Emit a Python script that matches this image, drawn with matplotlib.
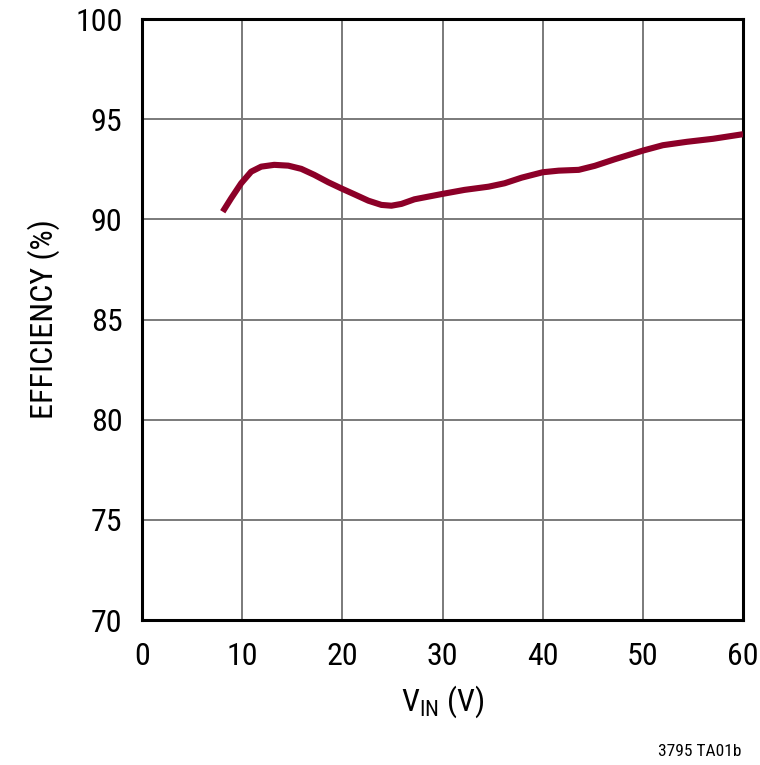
import matplotlib
matplotlib.use("Agg")
import matplotlib.pyplot as plt
from matplotlib import font_manager

vin = [8.06, 8.9, 9.9, 10.9, 11.9, 13.2, 14.6, 15.9, 17.2, 18.6, 20.0, 21.2, 22.6,
       23.9, 24.9, 25.9, 27.2, 30.0, 32.2, 34.6, 36.2, 37.9, 40.0, 41.6, 43.6,
       45.2, 47.2, 50.0, 52.0, 54.4, 57.0, 60.0]
eff = [90.38, 91.05, 91.80, 92.38, 92.63, 92.72, 92.68, 92.52, 92.22, 91.85, 91.52, 91.25, 90.93,
       90.72, 90.68, 90.77, 91.00, 91.27, 91.47, 91.63, 91.80, 92.08, 92.35, 92.43, 92.47,
       92.67, 93.00, 93.43, 93.70, 93.87, 94.02, 94.25]

xticks = [0, 10, 20, 30, 40, 50, 60]
yticks = [70, 75, 80, 85, 90, 95, 100]

names = {f.name for f in font_manager.fontManager.ttflist}
cands = ["Nimbus Sans Narrow", "Liberation Sans Narrow", "Arial Narrow", "Roboto Condensed",
         "Archivo Narrow", "PT Sans Narrow", "Liberation Sans"]
fam = next(c for c in cands if c in names)
plt.rcParams["font.family"] = [fam, "DejaVu Sans"]
plt.rcParams["mathtext.fontset"] = "custom"
plt.rcParams["mathtext.rm"] = fam
plt.rcParams["mathtext.it"] = fam

fig = plt.figure(figsize=(7.6, 7.65), dpi=100)
ax = fig.add_axes([142/760, 145/765, 601/760, 601/765])

ax.plot(vin, eff, color="#8C0028", lw=4.4, solid_capstyle="butt", solid_joinstyle="round", zorder=3)

ax.set_xlim(0, 60)
ax.set_ylim(70, 100)
ax.set_xticks(xticks)
ax.set_yticks(yticks)
ax.set_xticklabels([str(t) for t in xticks])
ax.set_yticklabels([str(t) for t in yticks])
ax.grid(True, color="#7a7a7a", lw=1.4)
ax.set_axisbelow(True)
for s in ax.spines.values():
    s.set_linewidth(2.2)
    s.set_color("black")
ax.tick_params(length=0, labelsize=23, pad=14)
ax.tick_params(axis="x", pad=16)

ax.set_ylabel("EFFICIENCY (%)", fontsize=23, labelpad=11)
ax.set_xlabel(r"$\mathrm{V_{IN}}$ (V)", fontsize=23, labelpad=9)

fig.text(741/760, 1 - 752/765, "3795 TA01b", fontsize=12.5, ha="right", va="center")

fig.savefig("out.png", dpi=100, facecolor="white")
